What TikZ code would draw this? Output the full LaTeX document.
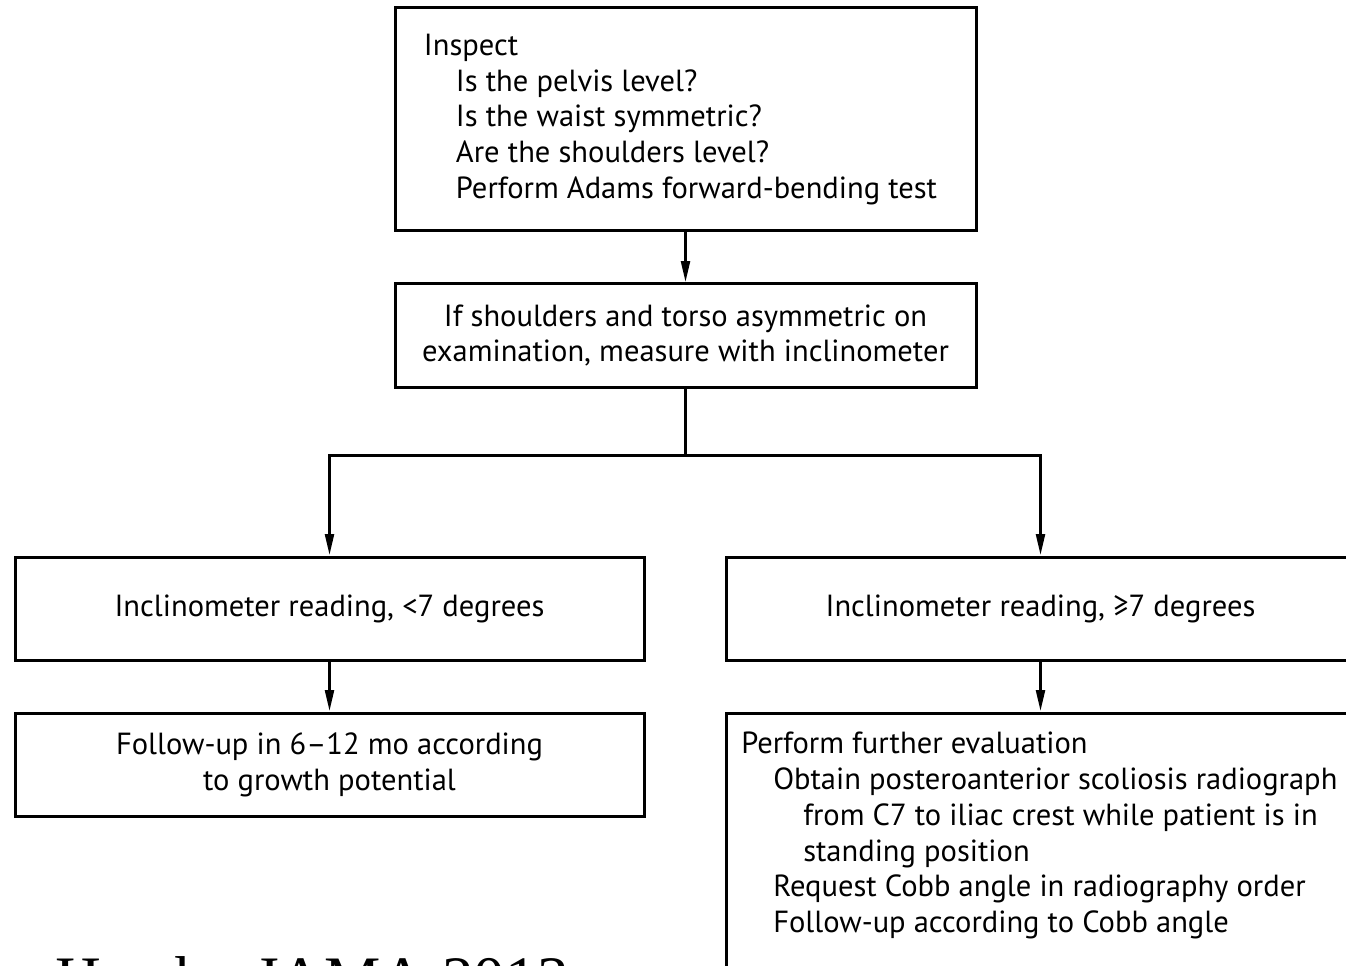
\documentclass[tikz,border=0pt]{standalone}
\usepackage{fontspec}
\setmainfont{PT Sans}
\newfontfamily\refserif{Liberation Serif}
\usetikzlibrary{arrows.meta}
\begin{document}
\begin{tikzpicture}[x=0.75pt,y=-0.75pt,
  box/.style={draw=black, line width=2.25pt, rectangle, inner sep=0pt,
    font=\fontsize{22.9}{26.8}\selectfont, align=center},
  conn/.style={line width=2.25pt, draw=black},
  arr/.style={conn, -{Triangle[length=16pt,width=6.5pt]}},
  txt/.style={inner sep=0pt, font=\fontsize{22.9}{26.8}\selectfont, align=left}
]
\useasboundingbox (0,0) rectangle (1346,966);
\clip (0,0) rectangle (1346,966);
\fill[white] (0,0) rectangle (1346,966);

% boxes
\node[box, minimum width=581*0.75pt, minimum height=223*0.75pt, align=left] (inspect) at (685.5,119.5)
 {Inspect\\
  \hspace*{24pt}Is the pelvis level?\\
  \hspace*{24pt}Is the waist symmetric?\\
  \hspace*{24pt}Are the shoulders level?\\
  \hspace*{24pt}Perform Adams forward-bending test\hspace*{7.5pt}};

\node[box, minimum width=581*0.75pt, minimum height=103*0.75pt] (measure) at (685.5,335.5)
 {If shoulders and torso asymmetric on\\examination, measure with inclinometer};

\node[box, minimum width=629*0.75pt, minimum height=103*0.75pt] (low) at (329.5,608.5)
 {Inclinometer reading, <7 degrees};

\node[box, minimum width=629*0.75pt, minimum height=103*0.75pt] (high) at (1040.5,608.5)
 {Inclinometer reading, ≥7 degrees};

\node[box, minimum width=629*0.75pt, minimum height=103*0.75pt] (followup) at (329.5,764.5)
 {Follow-up in 6–12 mo according\\to growth potential};

\node[box, minimum width=629*0.75pt, minimum height=297*0.75pt] (further) at (1040.5,861.5) {};

\node[txt, anchor=north west] (furthertxt) at (741,732)
 {Perform further evaluation\\
  \hspace*{24pt}Obtain posteroanterior scoliosis radiograph\\
  \hspace*{46.5pt}from C7 to iliac crest while patient is in\\
  \hspace*{46.5pt}standing position\\
  \hspace*{24pt}Request Cobb angle in radiography order\\
  \hspace*{24pt}Follow-up according to Cobb angle};

% connectors
\coordinate (split) at (685.5,455);
\draw[arr] (inspect.south) -- (measure.north);
\draw[conn] (measure.south) -- (split);
\draw[arr] (split) -| (low.north);
\draw[arr] (split) -| (high.north);
\draw[arr] (low.south) -- (followup.north);
\draw[arr] (high.south) -- (further.north);

% citation (cut off at bottom, as in the reference)
\node[anchor=base west, inner sep=0pt, font=\refserif\fontsize{47.5}{50}\selectfont] (cite) at (55,1000) {Hresko JAMA 2013};
\end{tikzpicture}
\end{document}
